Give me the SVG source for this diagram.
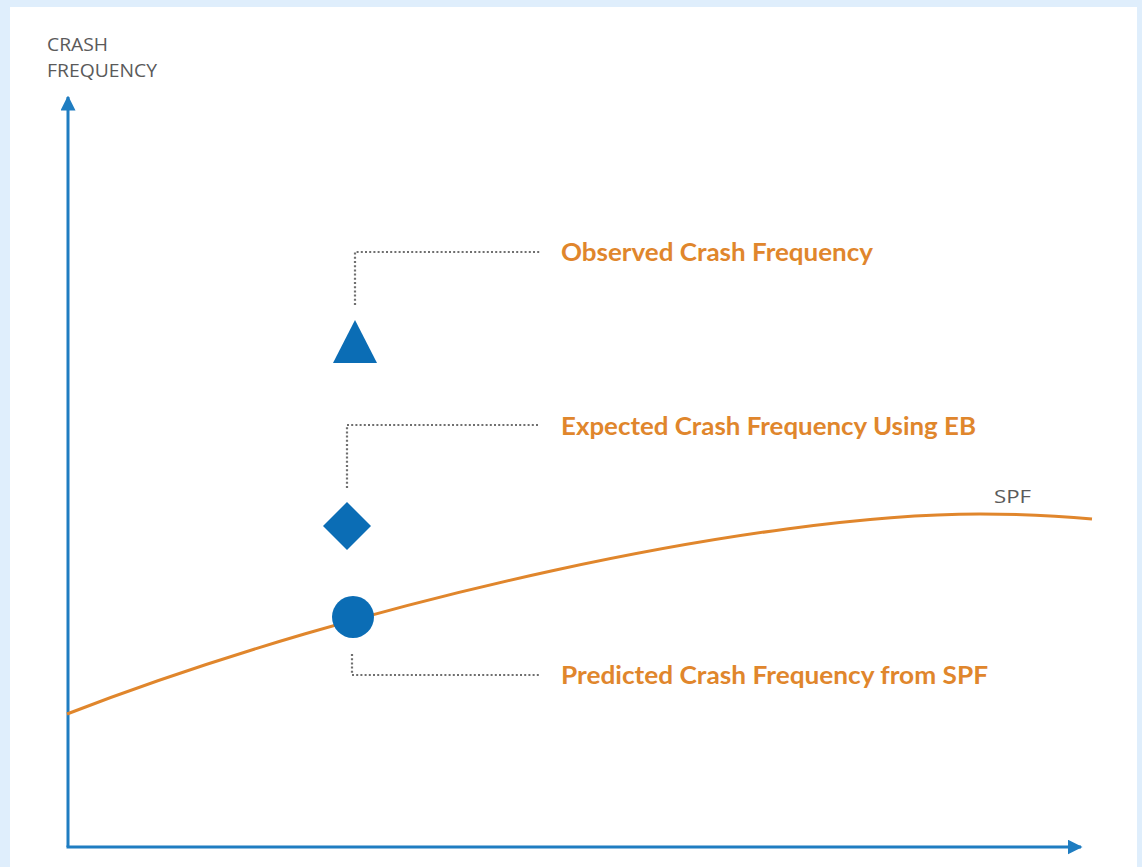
<svg xmlns="http://www.w3.org/2000/svg" width="1142" height="867" viewBox="0 0 1142 867">
<style>
.axis{stroke:#1F7DC1;stroke-width:3;fill:none}
.lead{stroke:#6f6f6f;stroke-width:2.2;stroke-dasharray:2 2.2;fill:none}
.lbl{font-family:"Lato","Liberation Sans",sans-serif;font-weight:bold;font-size:24px;fill:#E0862C}
.ax{font-family:"Open Sans","Liberation Sans",sans-serif;font-size:17.5px;fill:#5a5a5a}
.mark{fill:#0B6DB5}
</style>
<defs>
<marker id="ah" viewBox="0 0 10 10" refX="9" refY="5" markerWidth="5" markerHeight="5" markerUnits="strokeWidth" orient="auto">
<path d="M0,0 L10,5 L0,10 Z" fill="#1F7DC1"/>
</marker>
</defs>
<rect x="0" y="0" width="1142" height="867" fill="#DFEEFC"/>
<rect x="10" y="7" width="1127" height="860" fill="#FFFFFF"/>
<g id="axes">
<path class="axis" d="M68,847 L68,97" marker-end="url(#ah)"/>
<path class="axis" d="M66.5,847 L1081,847" marker-end="url(#ah)"/>
<text class="ax" x="47" y="51" textLength="61" lengthAdjust="spacingAndGlyphs">CRASH</text>
<text class="ax" x="47" y="77" textLength="110" lengthAdjust="spacingAndGlyphs">FREQUENCY</text>
</g>
<g id="spf-curve">
<path d="M67,714 C367,598 760,514 980,514 Q1040,514 1092,519" stroke="#E0862C" stroke-width="3" fill="none"/>
<text class="ax" x="994" y="503" style="font-size:19px" textLength="37" lengthAdjust="spacingAndGlyphs">SPF</text>
</g>
<g id="connectors">
<path class="lead" d="M355,305 L355,252 L540,252"/>
<path class="lead" d="M347,488 L347,425 L540,425"/>
<path class="lead" d="M352,654 L352,675 L540,675"/>
</g>
<g id="observed">
<polygon class="mark" points="355,320 377,363 333,363"/>
<text class="lbl" x="561" y="261" textLength="312" lengthAdjust="spacingAndGlyphs">Observed Crash Frequency</text>
</g>
<g id="expected">
<polygon class="mark" points="347,502 371,526 347,550 323,526"/>
<text class="lbl" x="561" y="435" textLength="415" lengthAdjust="spacingAndGlyphs">Expected Crash Frequency Using EB</text>
</g>
<g id="predicted">
<circle class="mark" cx="353" cy="617" r="21"/>
<text class="lbl" x="561" y="684" textLength="427" lengthAdjust="spacingAndGlyphs">Predicted Crash Frequency from SPF</text>
</g>
</svg>
